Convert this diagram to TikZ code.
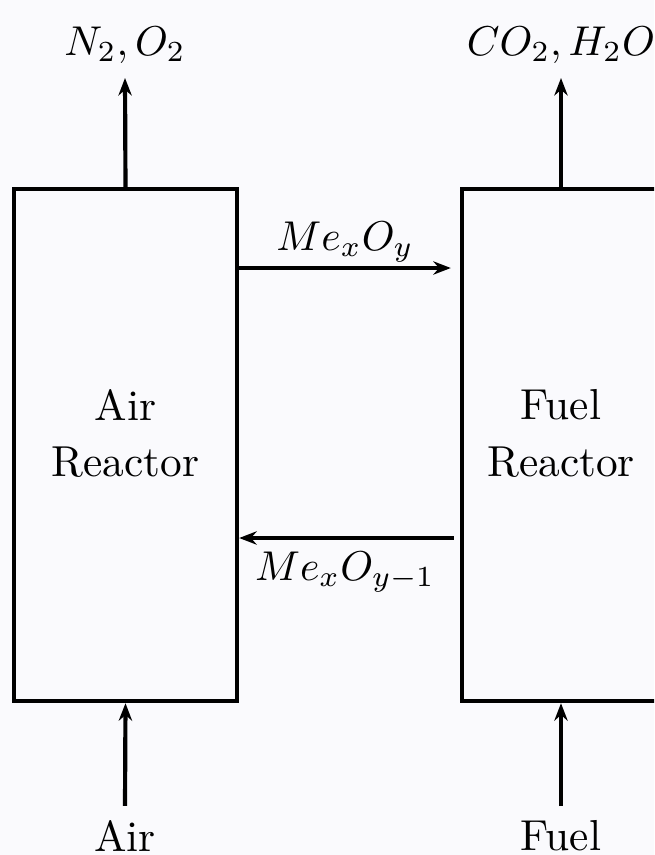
\documentclass[tikz,border=0pt]{standalone}
\usetikzlibrary{arrows.meta,calc}
\definecolor{bg}{RGB}{250,250,253}
\begin{document}
\begin{tikzpicture}[x=0.24pt,y=-0.24pt,
  reactor/.style={draw,line width=1.05pt,minimum width=223*0.24pt,minimum height=512*0.24pt,inner sep=0pt},
  flow/.style={line width=1pt,-{Stealth[length=4.2pt,width=3.2pt]}},
  lbl/.style={inner sep=3.33pt,font=\fontsize{10.4}{13.5}\selectfont},
  inlbl/.style={lbl,align=center,yshift=2.8pt}]
\fill[bg] (0,0) rectangle (654,855);
\useasboundingbox (0,0) rectangle (654,855);
\clip (0,0) rectangle (654,855);
\node[reactor,label={[inlbl]center:{Air\\Reactor}}] (AR) at (125.5,445) {};
\node[reactor,minimum width=198*0.24pt,label={[inlbl]center:{Fuel\\Reactor}}] (FR) at (561,445) {};
\node[lbl] (top1) at (125,45) {$N_2,O_2$};
\node[lbl] (top2) at (561,45) {$CO_2,H_2O$};
\node[lbl] (air) at (125,836) {Air};
\node[lbl] (fuel) at (561,836) {Fuel};
\node[lbl] (mo) at (345,242) {$Me_xO_y$};
\node[lbl] (mo1) at (345,572) {$Me_xO_{y-1}$};
\draw[flow] (AR.north) -- (top1.south);
\draw[flow] (FR.north) -- (top2.south);
\draw[flow] (air.north) -- (AR.south);
\draw[flow] (fuel.north) -- (FR.south);
\draw[flow] ($(AR.east |- 0,268)+(-4,0)$) -- ($(FR.west |- 0,268)+(-9,0)$);
\draw[flow] ($(FR.west |- 0,538)+(-6,0)$) -- (AR.east |- 0,538);
\end{tikzpicture}
\end{document}
